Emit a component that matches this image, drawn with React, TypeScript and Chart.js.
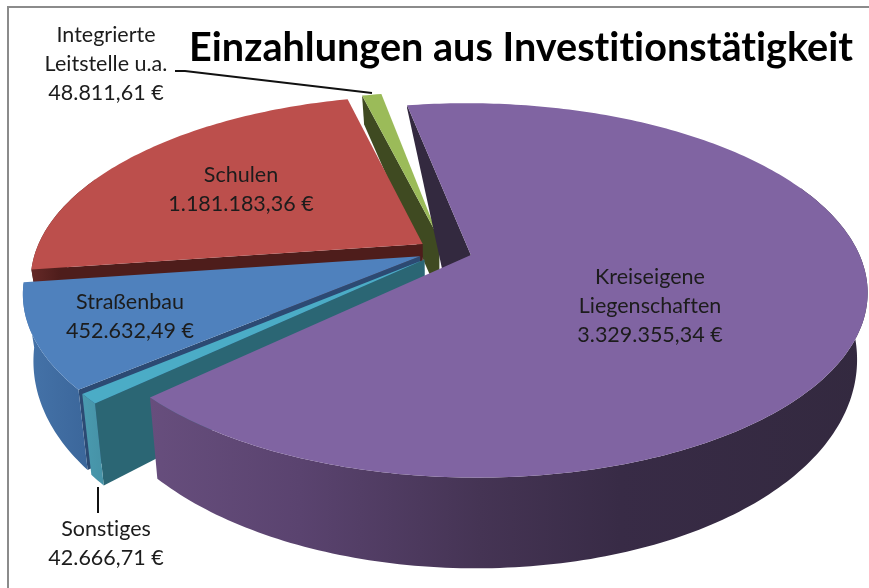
import React, { useEffect, useRef } from "react";
import { Chart, registerables } from "chart.js";

Chart.register(...registerables);

const categories = ["Kreiseigene Liegenschaften", "Sonstiges", "Straßenbau", "Schulen", "Integrierte Leitstelle u.a."];
const values = [3329355.34, 42666.71, 452632.49, 1181183.36, 48811.61];
const amountLabels = ["3.329.355,34 €", "42.666,71 €", "452.632,49 €", "1.181.183,36 €", "48.811,61 €"];
const titleText = "Einzahlungen aus Investitionstätigkeit";

const topColors = ["#8064a2", "#4bacc6", "#4f81bd", "#bc4f4c", "#9bbb59"];
const wallColors = ["#33293f", "#2b6674", "#2c4a73", "#4e1d1b", "#3f4a21"];
const rimStops: [number, string][][] = [
  [[150, "#674e7d"], [300, "#5a436f"], [480, "#453454"], [620, "#382b46"], [868, "#33293f"]],
  [[80, "#4a9bb0"], [110, "#4590a4"]],
  [[20, "#4674aa"], [95, "#3a6599"]],
  [[20, "#6e2e2c"], [60, "#4e1d1b"]],
  [[350, "#5a6e30"], [390, "#4d5e2a"]],
];
// painter's order: back to front
const drawOrder = [4, 3, 2, 1, 0];
// text placement [centre x, first baseline]
const labelLines: string[][] = [
  ["Kreiseigene", "Liegenschaften", amountLabels[0]],
  ["Sonstiges", amountLabels[1]],
  ["Straßenbau", amountLabels[2]],
  ["Schulen", amountLabels[3]],
  ["Integrierte", "Leitstelle u.a.", amountLabels[4]],
];
const labelAnchors: [number, number][] = [[650, 284], [106, 536], [130, 309], [241, 182], [106, 42]];

// perspective of the pie's plane
const CX = 445, CY = 251, A = 387, B = 179, K = 0.189, EXPLODE = 0.07, BOTTOM_SCALE = 0.975;

const project = (u: number, v: number) => {
  const w = 1 - K * v;
  return [CX + (A * u) / w, CY + (B * v) / w];
};
const depthAt = (v: number) => 60 + 30 * v;

const pie3d = {
  id: "pie3d",
  beforeDraw(chart: any) {
    const { ctx, width, height } = chart;
    ctx.letterSpacing = "0.01px";
    ctx.save();
    ctx.fillStyle = "#ffffff";
    ctx.fillRect(0, 0, width, height);
    ctx.strokeStyle = "#8b8b8b";
    ctx.lineWidth = 2;
    ctx.beginPath();
    ctx.moveTo(width, 7);
    ctx.lineTo(8, 7);
    ctx.lineTo(8, height);
    ctx.stroke();
    ctx.restore();
  },
  beforeDatasetsDraw(chart: any) {
    const { ctx } = chart;
    const arcs = chart.getDatasetMeta(0).data;
    ctx.save();
    ctx.lineJoin = "round";
    for (const i of drawOrder) {
      const arc = arcs[i];
      const s = arc.startAngle, e = arc.endAngle, mid = (s + e) / 2;
      const du = EXPLODE * Math.cos(mid), dv = EXPLODE * Math.sin(mid);
      const top = (a: number) => project(du + Math.cos(a), dv + Math.sin(a));
      const down = (a: number) => {
        const v = dv + Math.sin(a);
        const [x, y] = project(du + Math.cos(a), v);
        return [CX + (x - CX) * BOTTOM_SCALE, y + depthAt(v)];
      };
      const hubTop = project(du, dv);
      const hubDown = [CX + (hubTop[0] - CX) * BOTTOM_SCALE, hubTop[1] + depthAt(dv)];
      // cut wall on the slice's starting edge
      const wallRim = down(s);
      if (i === 0) {
        // the big slice's wall tapers to nothing at the back of the disc
        wallRim[0] = top(s)[0];
        wallRim[1] = top(s)[1] + 3;
        hubDown[0] -= 18;
      }
      ctx.fillStyle = wallColors[i];
      ctx.beginPath();
      ctx.moveTo(top(s)[0], top(s)[1]);
      ctx.lineTo(hubTop[0], hubTop[1]);
      ctx.lineTo(hubDown[0], hubDown[1]);
      ctx.lineTo(wallRim[0], wallRim[1]);
      ctx.closePath();
      ctx.fill();
      // outer rim: only the part that faces the viewer
      const steps = Math.max(4, Math.ceil((e - s) * 60));
      const angles: number[] = [];
      for (let n = 0; n <= steps; n++) {
        const a = s + ((e - s) * n) / steps;
        if (Math.sin(a) > -0.4) angles.push(a);
      }
      if (angles.length > 1) {
        const grad = ctx.createLinearGradient(0, 0, 869, 0);
        for (const [x, c] of rimStops[i]) grad.addColorStop(x / 869, c);
        ctx.fillStyle = grad;
        ctx.beginPath();
        angles.forEach((a, n) => {
          const p = top(a);
          n ? ctx.lineTo(p[0], p[1]) : ctx.moveTo(p[0], p[1]);
        });
        [...angles].reverse().forEach((a) => {
          const p = down(a);
          ctx.lineTo(p[0], p[1]);
        });
        ctx.closePath();
        ctx.fill();
      }
      // top face
      ctx.fillStyle = topColors[i];
      ctx.beginPath();
      ctx.moveTo(hubTop[0], hubTop[1]);
      for (let n = 0; n <= steps; n++) {
        const p = top(s + ((e - s) * n) / steps);
        ctx.lineTo(p[0], p[1]);
      }
      ctx.closePath();
      ctx.fill();
    }
    ctx.restore();
    return false;
  },
  afterDraw(chart: any) {
    const { ctx } = chart;
    ctx.save();
    ctx.strokeStyle = "#111111";
    ctx.lineWidth = 2;
    ctx.beginPath();
    ctx.moveTo(175, 71);
    ctx.lineTo(185, 71);
    ctx.lineTo(372, 93);
    ctx.moveTo(98, 487);
    ctx.lineTo(98, 513);
    ctx.stroke();
    ctx.fillStyle = "#1c1c1c";
    ctx.font = "21.5px Lato";
    ctx.textAlign = "center";
    ctx.textBaseline = "alphabetic";
    labelLines.forEach((lines, i) => {
      lines.forEach((t, n) => ctx.fillText(t, labelAnchors[i][0], labelAnchors[i][1] + n * 29));
    });
    ctx.restore();
  },
};

export default function App() {
  const ref = useRef<HTMLCanvasElement | null>(null);
  useEffect(() => {
    document.body.style.margin = "0";
    const chart = new Chart(ref.current as HTMLCanvasElement, {
      type: "pie",
      data: {
        labels: categories,
        datasets: [{ data: values, backgroundColor: topColors, borderWidth: 0 }],
      },
      options: {
        responsive: false,
        animation: false,
        rotation: -10.5,
        layout: { padding: { right: 16, top: 24 } },
        plugins: {
          legend: { display: false },
          tooltip: { enabled: false },
          title: {
            display: true,
            text: titleText,
            align: "end",
            color: "#000000",
            font: { family: "Lato", size: 39.6, weight: "bold" },
            padding: 0,
          },
        },
      },
      plugins: [pie3d],
    } as any);
    return () => chart.destroy();
  }, []);
  return <canvas ref={ref} width={869} height={588} style={{ display: "block", filter: "blur(0.4px)" }} />;
}
